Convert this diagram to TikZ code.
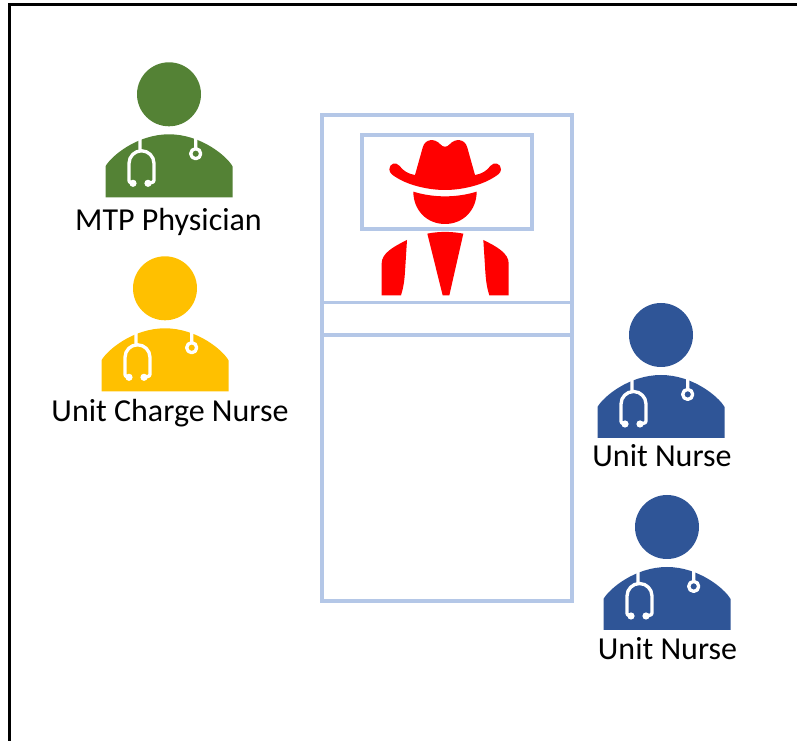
\documentclass[tikz,border=0pt]{standalone}
\usepackage{fontspec}
\setmainfont{Carlito}
\definecolor{bedblue}{HTML}{B4C7E7}
\definecolor{medgreen}{HTML}{548235}
\definecolor{medgold}{HTML}{FFC000}
\definecolor{medblue}{HTML}{2F5597}
\tikzset{
  medic/.pic={
    \fill (0,0) circle (32);
    \fill (-63.5,103) -- (-63.5,72) .. controls (-58,62) and (-32,40) .. (0,40)
      .. controls (32,40) and (58,62) .. (63.5,72) -- (63.5,103) -- cycle;
    \draw[white,line width=2.5pt,line cap=round,line join=round]
      (-29,42)--(-29,57) (-36,89) .. controls (-40,88) .. (-40,84) -- (-40,69)
      arc (180:360:12.5) -- (-15,84) .. controls (-15,88) .. (-21,89);
    \fill[white] (-36,89) circle (3.6) (-21,89) circle (3.6);
    \draw[white,line width=2.5pt] (26.7,42)--(26.7,54) (26.7,59.4) circle (5);
  },
  namelabel/.style={font=\fontsize{24pt}{26pt}\selectfont,inner sep=0pt,text=black},
  bedline/.style={draw=bedblue,line width=2.4pt,line join=miter}
}
\begin{document}
\begin{tikzpicture}[x=0.75pt,y=-0.75pt,line join=round]
\useasboundingbox (0,0) rectangle (797,741);
\draw[line width=2.4pt,line join=miter] (9.5,745)--(9.5,4.5)--(800,4.5);
% bed
\draw[bedline] (322,115) rectangle (572,601);
\draw[bedline] (322,302.5)--(572,302.5) (322,335)--(572,335);
\draw[bedline] (362,135) rectangle (532,229);
% patient
\begin{scope}[shift={(350,125)},x=0.25pt,y=-0.25pt,fill=red]
\fill (195,150) -- (218,68) .. controls (225,40) and (255,40) .. (270,57)
  .. controls (280,68) and (290,68) .. (300,57) .. controls (315,40) and (345,40) .. (352,68)
  -- (375,150) .. controls (395,147) and (410,138) .. (422,122)
  .. controls (432,110) and (453,115) .. (453,133) .. controls (453,145) and (440,152) .. (430,158)
  .. controls (390,183) and (330,195) .. (285,195) .. controls (240,195) and (180,183) .. (140,158)
  .. controls (130,152) and (118,145) .. (118,133) .. controls (118,115) and (138,110) .. (148,122)
  .. controls (160,138) and (175,147) .. (195,150) -- cycle;
\fill (190,200) .. controls (220,209) and (250,214) .. (285,214)
  .. controls (320,214) and (350,209) .. (380,200)
  .. controls (380,255) and (340,297) .. (285,297)
  .. controls (230,297) and (190,255) .. (190,200) -- cycle;
\fill (232,326) .. controls (265,319) and (305,319) .. (340,326) -- (298,511) -- (278,511) -- cycle;
\fill (171,345) -- (165,440) .. controls (163,475) and (158,495) .. (153,511) -- (95,511) -- (95,415)
  .. controls (95,385) and (130,365) .. (171,345) -- cycle;
\fill (400,345) -- (406,440) .. controls (408,475) and (413,495) .. (418,511) -- (476,511) -- (476,415)
  .. controls (476,385) and (441,365) .. (400,345) -- cycle;
\end{scope}
% staff
\pic[fill=medgreen] at (169,94.3) {medic};
\pic[fill=medgold] at (165,288.3) {medic};
\pic[fill=medblue] at (661,335) {medic};
\pic[fill=medblue] at (667,527) {medic};
\node[namelabel] (physician) at (168.5,221.5) {MTP Physician};
\node[namelabel] (chargenurse) at (170,413.5) {Unit Charge Nurse};
\node[namelabel] (nurseone) at (662,456) {Unit Nurse};
\node[namelabel] (nursetwo) at (667.5,649) {Unit Nurse};
\end{tikzpicture}
\end{document}
